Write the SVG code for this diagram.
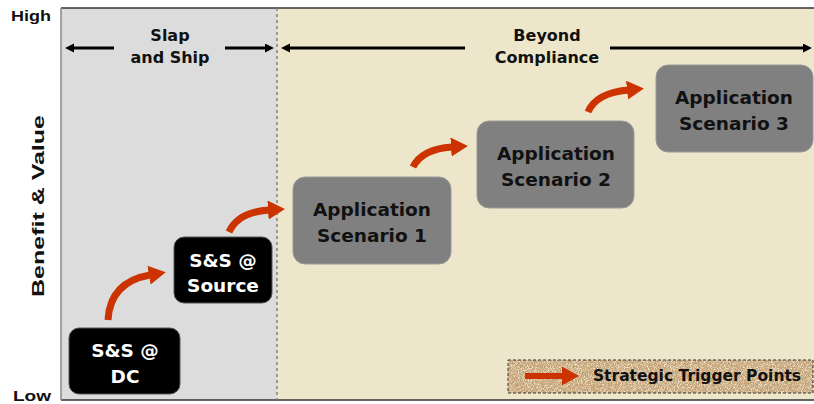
<svg xmlns="http://www.w3.org/2000/svg" width="814" height="404" viewBox="0 0 814 404">
  <style>
    .axis { font-family: "Liberation Sans", Arial, sans-serif; font-weight: bold; fill: #111; }
    .lbl { font-family: "DejaVu Sans", Verdana, sans-serif; font-weight: bold; text-anchor: middle; }
    .dark rect { fill: #000; stroke: #555; stroke-width: 1; }
    .dark text { fill: #fff; font-size: 18.5px; }
    .grey rect { fill: #808080; stroke: #9a9a9a; stroke-width: 1; }
    .grey text { fill: #111; font-size: 18.5px; }
    .span { stroke: #000; stroke-width: 3; fill: none; }
    .trigger { stroke: #cc3300; stroke-width: 7; fill: none; marker-end: url(#redHead); }
    .hdr { font-size: 16px; fill: #111; }
  </style>
  <defs>
    <marker id="redHead" markerUnits="userSpaceOnUse" markerWidth="18" markerHeight="20" refX="1" refY="9.5" orient="auto">
      <path d="M0,0 L17,9.5 L0,19 z" fill="#cc3300"/>
    </marker>
    <marker id="blackHead" markerUnits="userSpaceOnUse" markerWidth="10" markerHeight="10" refX="1" refY="4.5" orient="auto-start-reverse">
      <path d="M0,0 L9,4.5 L0,9 z" fill="#000"/>
    </marker>
    <filter id="grain" x="0" y="0" width="100%" height="100%">
      <feTurbulence type="fractalNoise" baseFrequency="1.1" numOctaves="2" seed="3" result="n"/>
      <feColorMatrix in="n" type="matrix" values="0 0 0 0 0.5  0 0 0 0 0.33  0 0 0 0 0.16  0 0 0 3 -1.2" result="spots"/>
      <feComposite in="spots" in2="SourceGraphic" operator="in"/>
    </filter>
    <filter id="grainLight" x="0" y="0" width="100%" height="100%">
      <feTurbulence type="fractalNoise" baseFrequency="1.3" numOctaves="1" seed="9" result="n"/>
      <feColorMatrix in="n" type="matrix" values="0 0 0 0 0.93  0 0 0 0 0.86  0 0 0 0 0.72  0 0 0 3 -1.3" result="spots"/>
      <feComposite in="spots" in2="SourceGraphic" operator="in"/>
    </filter>
  </defs>

  <!-- background bands -->
  <rect x="61" y="8" width="216" height="392" fill="#dcdcdc"/>
  <rect x="277" y="8" width="537" height="392" fill="#ede6cb"/>
  <line x1="61" y1="8" x2="814" y2="8" stroke="#333" stroke-width="1.5"/>
  <line x1="61" y1="400" x2="814" y2="400" stroke="#333" stroke-width="1.5"/>
  <line x1="61" y1="8" x2="61" y2="400" stroke="#888" stroke-width="1.5"/>
  <line x1="277" y1="8" x2="277" y2="400" stroke="#808080" stroke-width="1.5" stroke-dasharray="3,3"/>

  <!-- axis labels -->
  <text class="axis" x="11" y="21" font-size="14" textLength="40" lengthAdjust="spacingAndGlyphs">High</text>
  <text class="axis" x="13" y="401" font-size="14" textLength="38" lengthAdjust="spacingAndGlyphs">Low</text>
  <text class="axis" font-size="17" transform="translate(44,297) rotate(-90)" textLength="182" lengthAdjust="spacingAndGlyphs">Benefit &amp; Value</text>

  <!-- phase spans -->
  <g id="phase-slap">
    <line class="span" x1="114" y1="48" x2="73" y2="48" marker-end="url(#blackHead)"/>
    <line class="span" x1="225" y1="48" x2="266" y2="48" marker-end="url(#blackHead)"/>
    <text class="lbl hdr" x="170" y="41">Slap</text>
    <text class="lbl hdr" x="170" y="63">and Ship</text>
  </g>
  <g id="phase-beyond">
    <line class="span" x1="465" y1="48" x2="289" y2="48" marker-end="url(#blackHead)"/>
    <line class="span" x1="610" y1="48" x2="804" y2="48" marker-end="url(#blackHead)"/>
    <text class="lbl hdr" x="547" y="41">Beyond</text>
    <text class="lbl hdr" x="547" y="63">Compliance</text>
  </g>

  <!-- connectors -->
  <g id="connectors">
    <path class="trigger" d="M108,320 Q110,282 150,275"/>
    <path class="trigger" d="M229,232 Q238,212 269,210"/>
    <path class="trigger" d="M413,167 Q422,149 452,147"/>
    <path class="trigger" d="M588,112 Q596,93 628,90"/>
  </g>

  <!-- nodes -->
  <g id="ss-dc" class="dark">
    <rect x="69" y="328" width="111" height="66" rx="10"/>
    <text class="lbl" x="125" y="357">S&amp;S @</text>
    <text class="lbl" x="125" y="383">DC</text>
  </g>
  <g id="ss-source" class="dark">
    <rect x="174" y="237" width="98" height="66" rx="10"/>
    <text class="lbl" x="223" y="267">S&amp;S @</text>
    <text class="lbl" x="223" y="292">Source</text>
  </g>
  <g id="app-1" class="grey">
    <rect x="293" y="177" width="158" height="87" rx="12"/>
    <text class="lbl" x="372" y="216">Application</text>
    <text class="lbl" x="372" y="242">Scenario 1</text>
  </g>
  <g id="app-2" class="grey">
    <rect x="477" y="121" width="157" height="87" rx="12"/>
    <text class="lbl" x="556" y="160">Application</text>
    <text class="lbl" x="556" y="186">Scenario 2</text>
  </g>
  <g id="app-3" class="grey">
    <rect x="656" y="65" width="157" height="87" rx="12"/>
    <text class="lbl" x="734" y="104">Application</text>
    <text class="lbl" x="734" y="130">Scenario 3</text>
  </g>

  <!-- legend -->
  <g id="legend">
    <rect x="508" y="360" width="305" height="33" fill="#c9a87c"/>
    <rect x="508" y="360" width="305" height="33" fill="#c9a87c" filter="url(#grain)"/>
    <rect x="508" y="360" width="305" height="33" fill="#c9a87c" filter="url(#grainLight)"/>
    <rect x="508" y="360" width="305" height="33" fill="none" stroke="#333" stroke-width="1" stroke-dasharray="3,2"/>
    <line x1="525" y1="376" x2="563" y2="376" stroke="#cc3300" stroke-width="6" marker-end="url(#redHead)"/>
    <text class="lbl" x="697" y="381" font-size="15.5" fill="#111">Strategic Trigger Points</text>
  </g>
</svg>
